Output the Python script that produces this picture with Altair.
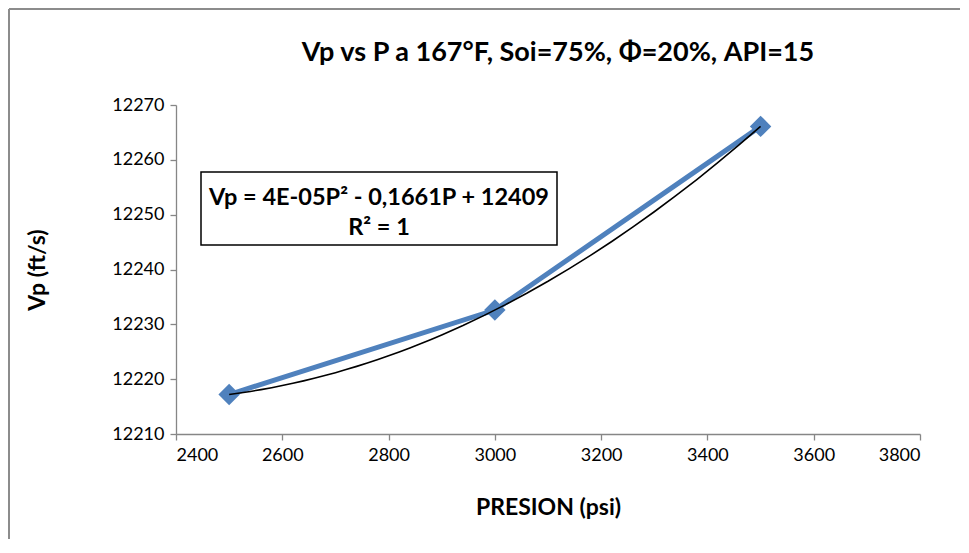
import altair as alt
import pandas as pd

# Data
presion = [2500, 3000, 3500]
vp = [12217.2, 12232.6, 12266.1]

x_ticks = [2400, 2600, 2800, 3000, 3200, 3400, 3600, 3800]
y_ticks = [12210, 12220, 12230, 12240, 12250, 12260, 12270]

title_text = "Vp vs P a 167°F, Soi=75%, Φ=20%, API=15"
eq_line1 = "Vp = 4E-05P² - 0,1661P + 12409"
eq_line2 = "R² = 1"

df = pd.DataFrame({"P": presion, "Vp": vp})
one = pd.DataFrame({"a": [0]})

FONT = "Lato"
BLUE = "#4F81BD"
GRAY = "#868686"

x_enc = alt.X("P:Q", scale=alt.Scale(domain=[2400, 3800], nice=False),
              axis=alt.Axis(values=x_ticks, format="d", title="PRESION (psi)",
                            titlePadding=32))
y_enc = alt.Y("Vp:Q", scale=alt.Scale(domain=[12210, 12270], nice=False, zero=False),
              axis=alt.Axis(values=y_ticks, format="d", title="Vp (ft/s)",
                            titlePadding=62))

base = alt.Chart(df)

line = base.mark_line(color=BLUE, strokeWidth=5).encode(x=x_enc, y=y_enc)
pts = base.mark_point(shape="diamond", filled=True, size=460, color=BLUE,
                      opacity=1).encode(x=x_enc, y=y_enc)
trend = base.transform_regression(
    "P", "Vp", method="poly", order=2, extent=[2500, 3500]
).mark_line(color="black", strokeWidth=1.6).encode(x=x_enc, y=y_enc)

box = alt.Chart(one).mark_rect(fill="white", stroke="black", strokeWidth=1.5).encode(
    x=alt.value(25), x2=alt.value(381), y=alt.value(67), y2=alt.value(140))
t1 = alt.Chart(one).mark_text(text=eq_line1, font=FONT, fontSize=23.5, fontWeight="bold",
                              align="center", baseline="alphabetic", color="black").encode(
    x=alt.value(203), y=alt.value(100))
t2 = alt.Chart(one).mark_text(text=eq_line2, font=FONT, fontSize=23.5, fontWeight="bold",
                              align="center", baseline="alphabetic", color="black").encode(
    x=alt.value(203), y=alt.value(130))

title = alt.Chart(one).mark_text(text=title_text, font=FONT, fontSize=27, fontWeight="bold",
                                 align="center", baseline="alphabetic", color="black",
                                 clip=False).encode(
    x=alt.value(382), y=alt.value(-44))

border_top = alt.Chart(one).mark_rule(color="#8c8c8c", strokeWidth=2, clip=False).encode(
    x=alt.value(-167), x2=alt.value(790), y=alt.value(-96))
border_left = alt.Chart(one).mark_rule(color="#8c8c8c", strokeWidth=2, clip=False).encode(
    x=alt.value(-167), y=alt.value(-96), y2=alt.value(440))

chart = alt.layer(border_top, border_left, title, box, t1, t2, line, pts, trend).properties(
    width=744, height=329,
    background="white",
    autosize=alt.AutoSizeParams(type="none"),
    padding={"left": 168, "top": 97, "right": 40, "bottom": 105},
).configure_view(stroke=None).configure_axis(
    grid=False, domainColor=GRAY, tickColor=GRAY, domainWidth=1.3, tickWidth=1.3,
    tickSize=6, labelFont=FONT, labelFontSize=18, labelColor="black", labelPadding=6,
    titleFont=FONT, titleFontSize=23, titleFontWeight="bold", titleColor="black",
)

chart.save("out.html", embed_options={"renderer": "svg", "actions": False})
